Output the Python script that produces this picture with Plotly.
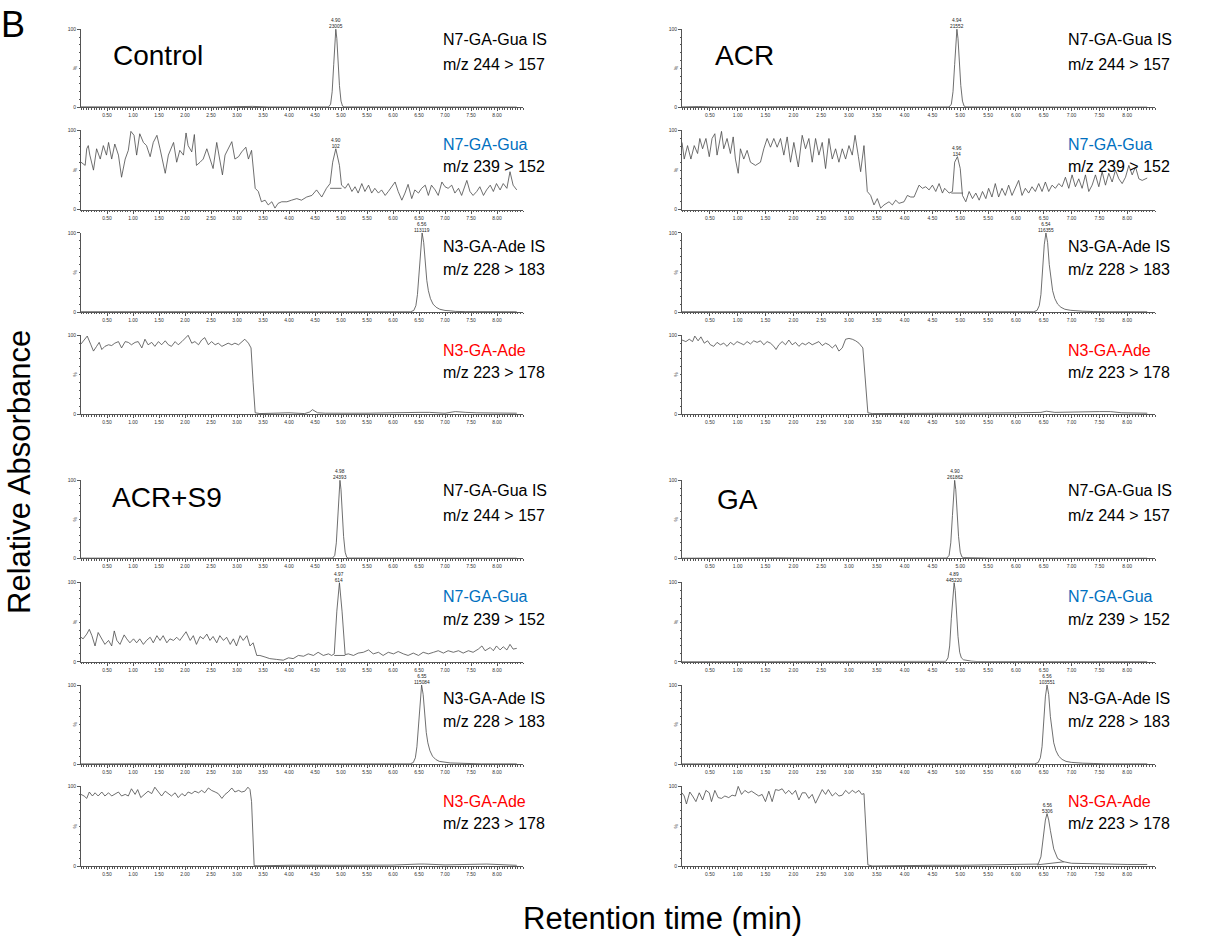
import plotly.graph_objects as go

W, H = 1222, 944
FONT = "Liberation Sans, Arial, Helvetica, sans-serif"

# ---------------- labels ----------------
panel_names = ["Control", "ACR", "ACR+S9", "GA"]
row_names = ["N7-GA-Gua IS", "N7-GA-Gua", "N3-GA-Ade IS", "N3-GA-Ade"]
row_mz = ["m/z 244 > 157", "m/z 239 > 152", "m/z 228 > 183", "m/z 223 > 178"]
row_name_colors = ["#000000", "#0070C0", "#000000", "#FF0000"]
x_tick_vals = [0.5, 1.0, 1.5, 2.0, 2.5, 3.0, 3.5, 4.0, 4.5, 5.0, 5.5, 6.0, 6.5, 7.0, 7.5, 8.0]
x_tick_text = ["0.50", "1.00", "1.50", "2.00", "2.50", "3.00", "3.50", "4.00",
               "4.50", "5.00", "5.50", "6.00", "6.50", "7.00", "7.50", "8.00"]
y_title = "Relative Absorbance"
x_title = "Retention time (min)"

# ---------------- Control ----------------
ctrl_is7_t = [0.00, 0.60, 1.00, 1.40, 2.00, 2.60, 3.00, 3.30, 3.60, 4.20, 4.76, 4.80, 4.83, 4.86, 4.88, 4.90,
              4.92, 4.94, 4.97, 5.00, 5.03, 5.06, 5.60, 6.20, 7.00, 7.80, 8.38]
ctrl_is7_v = [0.6, 0.4, 0.9, 0.5, 0.8, 0.4, 0.9, 1.2, 0.5, 0.4, 0.5, 4, 20, 55, 85, 100,
              88, 62, 28, 8, 1.5, 0.5, 0.4, 0.4, 0.3, 0.3, 0.3]

ctrl_gua_t = [0.00, 0.08, 0.11, 0.14, 0.17, 0.24, 0.30, 0.37, 0.43, 0.49,
              0.53, 0.59, 0.65, 0.72, 0.78, 0.85, 0.91, 0.96, 1.02, 1.07,
              1.13, 1.20, 1.26, 1.33, 1.39, 1.46, 1.52, 1.62, 1.68, 1.78,
              1.84, 1.90, 1.97, 2.02, 2.06, 2.13, 2.18, 2.22, 2.29, 2.35,
              2.42, 2.48, 2.54, 2.61, 2.67, 2.72, 2.77, 2.83, 2.90, 2.96,
              3.03, 3.09, 3.17, 3.22, 3.28, 3.35, 3.41, 3.47, 3.54, 3.60,
              3.67, 3.73, 3.79, 3.86, 3.96, 4.05, 4.15, 4.24, 4.34, 4.44,
              4.53, 4.63, 4.72, 4.79, 4.84, 4.90, 4.97, 5.01, 5.08, 5.14,
              5.21, 5.27, 5.33, 5.40, 5.46, 5.53, 5.59, 5.65, 5.72, 5.78,
              5.85, 5.91, 5.97, 6.04, 6.10, 6.17, 6.23, 6.29, 6.36, 6.42,
              6.49, 6.55, 6.62, 6.68, 6.74, 6.81, 6.87, 6.94, 7.00, 7.06,
              7.13, 7.19, 7.26, 7.32, 7.42, 7.48, 7.54, 7.61, 7.67, 7.74,
              7.80, 7.87, 7.93, 7.99, 8.06, 8.12, 8.19, 8.25, 8.31, 8.38]
ctrl_gua_v = [60, 56, 77, 81, 69, 50, 77, 64, 81, 69,
              85, 64, 83, 69, 41, 64, 75, 99, 94, 69,
              96, 85, 81, 67, 85, 94, 77, 46, 69, 85,
              60, 75, 69, 97, 81, 73, 95, 56, 60, 64,
              77, 64, 52, 85, 64, 44, 69, 77, 86, 64,
              67, 73, 79, 64, 75, 27, 23, 10, 12, 6,
              10, 2, 8, 10, 10, 12, 14, 12, 16, 18,
              25, 16, 27, 33, 60, 77, 56, 31, 27, 33,
              23, 29, 21, 33, 23, 31, 21, 27, 21, 25,
              18, 23, 29, 35, 23, 12, 21, 32, 14, 25,
              21, 27, 31, 18, 31, 25, 18, 35, 29, 27,
              31, 21, 27, 18, 37, 23, 18, 23, 29, 18,
              25, 31, 23, 33, 25, 33, 27, 48, 31, 25]
ctrl_gua_base_t = [4.79, 5.01]
ctrl_gua_base_v = [27, 27]

ctrl_is3_t = [0.00, 0.50, 1.00, 1.50, 2.00, 2.50, 3.00, 3.30, 4.00, 5.00, 6.00, 6.34, 6.40, 6.44, 6.47, 6.50,
              6.53, 6.56, 6.59, 6.62, 6.65, 6.68, 6.72, 6.77, 6.83, 6.90, 7.00, 7.10, 7.20, 7.40, 7.60, 8.38]
ctrl_is3_v = [0.4, 0.3, 0.5, 0.3, 0.6, 0.3, 0.5, 0.6, 0.3, 0.3, 0.3, 0.3, 2, 8, 22, 50,
              85, 100, 88, 60, 40, 27, 17, 10, 6, 3.5, 2, 1.5, 0.8, 0.5, 0.3, 0.3]

ctrl_ade_t = [0.00, 0.06, 0.12, 0.19, 0.24, 0.30, 0.35, 0.40, 0.46, 0.53,
              0.59, 0.65, 0.72, 0.78, 0.85, 0.91, 0.97, 1.04, 1.10, 1.17,
              1.23, 1.29, 1.36, 1.42, 1.49, 1.55, 1.62, 1.68, 1.74, 1.81,
              1.87, 1.94, 2.00, 2.06, 2.13, 2.19, 2.26, 2.32, 2.38, 2.45,
              2.51, 2.58, 2.64, 2.71, 2.77, 2.83, 2.90, 2.96, 3.03, 3.09,
              3.15, 3.22, 3.27, 3.31, 3.35, 3.44,
              3.90, 4.00, 4.30, 4.40, 4.45, 4.55, 4.70, 5.50, 6.50, 6.70, 7.00, 7.20, 7.40, 7.60, 8.38]
ctrl_ade_v = [89, 94, 99, 88, 80, 86, 91, 82, 86, 88,
              87, 90, 92, 84, 92, 91, 88, 91, 92, 84,
              95, 88, 91, 86, 92, 88, 93, 88, 86, 92,
              88, 92, 96, 100, 90, 92, 88, 94, 97, 88,
              92, 88, 90, 86, 88, 90, 88, 90, 88, 91,
              95, 90, 84, 40, 2, 1,
              1.5, 2, 1, 3, 6, 2, 1.5, 1.5, 2.5, 2.5, 1.5, 3.5, 2.5, 2, 1.5]

# ---------------- ACR ----------------
acr_is7_t = [0.00, 0.30, 0.60, 1.30, 2.00, 2.60, 3.10, 3.60, 4.30, 4.80, 4.84, 4.87, 4.90, 4.92, 4.94,
             4.96, 4.98, 5.01, 5.04, 5.07, 5.10, 5.60, 6.40, 7.20, 8.36]
acr_is7_v = [0.5, 1.0, 0.4, 0.9, 0.8, 0.4, 0.7, 0.3, 0.3, 0.5, 4, 20, 55, 85, 100,
             88, 62, 28, 8, 1.5, 0.5, 0.3, 0.3, 0.3, 0.3]

acr_gua_t = [0.00, 0.04, 0.10, 0.16, 0.22, 0.28, 0.32, 0.37, 0.43, 0.49,
             0.54, 0.59, 0.63, 0.71, 0.75, 0.81, 0.87, 0.92, 0.96, 1.01,
             1.05, 1.11, 1.17, 1.23, 1.32, 1.41, 1.47, 1.53, 1.59, 1.65,
             1.71, 1.77, 1.83, 1.89, 1.95, 2.01, 2.09, 2.16, 2.22, 2.28,
             2.34, 2.40, 2.46, 2.52, 2.58, 2.64, 2.70, 2.76, 2.82, 2.88,
             2.94, 3.00, 3.06, 3.11, 3.17, 3.21, 3.27, 3.33, 3.39, 3.45,
             3.51, 3.57, 3.63, 3.72, 3.78, 3.84, 3.90, 3.99, 4.05, 4.11,
             4.17, 4.26, 4.32, 4.38, 4.44, 4.50, 4.56, 4.62, 4.68, 4.72,
             4.80, 4.86, 4.90, 4.95, 5.00, 5.04, 5.10, 5.16, 5.22, 5.28,
             5.34, 5.40, 5.46, 5.51, 5.57, 5.63, 5.69, 5.75, 5.81, 5.87,
             5.93, 5.99, 6.05, 6.11, 6.17, 6.23, 6.29, 6.35, 6.41, 6.47,
             6.53, 6.59, 6.65, 6.71, 6.77, 6.83, 6.89, 6.95, 7.01, 7.07,
             7.13, 7.19, 7.25, 7.31, 7.37, 7.43, 7.49, 7.55, 7.61, 7.67,
             7.73, 7.79, 7.85, 7.91, 7.97, 8.03, 8.09, 8.15, 8.21, 8.27, 8.36]
acr_gua_v = [85, 64, 81, 64, 81, 71, 90, 77, 90, 67,
             90, 96, 69, 99, 77, 90, 71, 92, 64, 46,
             77, 64, 75, 60, 56, 60, 77, 90, 79, 90,
             79, 90, 69, 92, 60, 85, 54, 94, 77, 90,
             60, 90, 69, 85, 52, 90, 64, 77, 60, 77,
             64, 81, 69, 94, 67, 48, 81, 23, 18, 6,
             14, 2, 6, 10, 6, 12, 8, 10, 18, 16,
             16, 31, 27, 29, 25, 31, 23, 33, 21, 27,
             21, 23, 60, 67, 52, 18, 10, 23, 14, 21,
             12, 23, 14, 27, 16, 33, 16, 27, 18, 31,
             18, 27, 37, 18, 27, 21, 29, 23, 33, 23,
             35, 23, 31, 27, 33, 29, 41, 27, 44, 29,
             39, 27, 44, 23, 31, 44, 29, 48, 31, 46,
             35, 50, 39, 33, 41, 56, 44, 54, 39, 37, 40]
acr_gua_base_t = [4.84, 5.05]
acr_gua_base_v = [21, 21]

acr_is3_t = [0.00, 0.60, 1.20, 1.90, 2.50, 3.10, 3.80, 4.50, 5.20, 6.00, 6.32, 6.38, 6.42, 6.45, 6.48, 6.51,
             6.54, 6.57, 6.60, 6.63, 6.66, 6.70, 6.75, 6.81, 6.88, 6.98, 7.08, 7.20, 7.40, 7.60, 8.36]
acr_is3_v = [0.4, 0.6, 0.5, 0.7, 0.3, 0.3, 0.3, 0.3, 0.3, 0.3, 0.3, 2, 8, 22, 50, 85,
             100, 88, 60, 40, 27, 17, 10, 6, 3.5, 2.2, 1.5, 1, 0.6, 0.3, 0.3]

acr_ade_t = [0.00, 0.07, 0.13, 0.19, 0.23, 0.29, 0.34, 0.40, 0.46, 0.51,
             0.57, 0.63, 0.69, 0.75, 0.81, 0.87, 0.93, 0.99, 1.05, 1.11,
             1.17, 1.23, 1.29, 1.35, 1.41, 1.47, 1.53, 1.59, 1.65, 1.69,
             1.74, 1.80, 1.86, 1.92, 1.98, 2.04, 2.10, 2.16, 2.22, 2.28,
             2.34, 2.40, 2.46, 2.52, 2.58, 2.64, 2.70, 2.76, 2.82, 2.88,
             2.94, 3.00, 3.06, 3.12, 3.18, 3.25, 3.30, 3.34, 3.42,
             4.00, 5.00, 6.00, 6.45, 6.55, 6.70, 7.50, 7.70, 7.90, 8.36]
acr_ade_v = [94, 92, 95, 92, 99, 93, 98, 90, 93, 88,
             86, 91, 88, 90, 86, 91, 88, 92, 90, 88,
             92, 89, 93, 91, 93, 88, 92, 90, 86, 82,
             88, 92, 88, 94, 88, 91, 86, 90, 88, 91,
             88, 90, 92, 87, 90, 88, 84, 88, 80, 84,
             95, 96, 95, 93, 90, 84, 44, 2, 1,
             1.5, 1.5, 2, 2.5, 4, 2.5, 3.5, 3.5, 2, 1.5]

# ---------------- ACR+S9 ----------------
s9_is7_t = [0.00, 0.50, 1.00, 1.50, 2.00, 2.50, 3.00, 3.50, 4.20, 4.84, 4.88, 4.91, 4.94, 4.96, 4.98,
            5.00, 5.02, 5.05, 5.08, 5.11, 5.14, 5.70, 6.50, 7.30, 8.38]
s9_is7_v = [0.4, 0.3, 0.4, 0.3, 0.4, 0.3, 0.4, 0.3, 0.3, 0.5, 4, 20, 55, 85, 100,
            88, 62, 28, 8, 1.5, 0.5, 0.3, 0.3, 0.3, 0.3]

s9_gua_t = [0.00, 0.04, 0.11, 0.16, 0.21, 0.27, 0.33, 0.40, 0.46, 0.53,
            0.59, 0.64, 0.69, 0.75, 0.83, 0.88, 0.94, 1.01, 1.07, 1.13,
            1.20, 1.26, 1.33, 1.39, 1.46, 1.52, 1.58, 1.65, 1.71, 1.78,
            1.84, 1.90, 1.97, 2.02, 2.10, 2.16, 2.22, 2.29, 2.35, 2.42,
            2.48, 2.54, 2.61, 2.67, 2.74, 2.80, 2.87, 2.93, 2.99, 3.06,
            3.12, 3.19, 3.25, 3.31, 3.38, 3.44, 3.54, 3.63, 3.76, 3.89,
            3.99, 4.08, 4.18, 4.28, 4.37, 4.47, 4.56, 4.66, 4.76, 4.82,
            4.87, 4.92, 4.97, 5.02, 5.08, 5.14, 5.24, 5.33, 5.43, 5.53,
            5.62, 5.72, 5.81, 5.91, 6.01, 6.10, 6.20, 6.29, 6.39, 6.49,
            6.58, 6.68, 6.78, 6.87, 6.97, 7.06, 7.16, 7.26, 7.35, 7.45,
            7.54, 7.64, 7.71, 7.77, 7.87, 7.93, 7.99, 8.06, 8.12, 8.19,
            8.25, 8.31, 8.38]
s9_gua_v = [31, 29, 35, 41, 33, 20, 37, 29, 22, 27,
            20, 39, 27, 22, 34, 29, 24, 29, 24, 29,
            22, 27, 31, 24, 33, 27, 33, 24, 29, 27,
            31, 27, 33, 38, 27, 33, 22, 32, 29, 35,
            27, 32, 24, 33, 27, 31, 22, 29, 20, 33,
            27, 33, 20, 24, 8, 8, 6, 4, 3, 2,
            5, 4, 8, 7, 10, 8, 12, 8, 10, 8,
            10, 64, 100, 64, 9, 10, 8, 11, 12, 15,
            10, 12, 8, 12, 10, 13, 10, 8, 11, 8,
            12, 10, 12, 14, 11, 14, 12, 14, 11, 14,
            12, 16, 20, 14, 18, 14, 20, 15, 19, 15,
            22, 16, 17]
s9_gua_base_t = [4.87, 5.08]
s9_gua_base_v = [8, 8]

s9_is3_t = [0.00, 0.40, 1.00, 1.30, 2.00, 2.70, 3.20, 4.00, 5.00, 6.00, 6.33, 6.39, 6.43, 6.46, 6.49, 6.52,
            6.55, 6.58, 6.61, 6.64, 6.67, 6.71, 6.76, 6.82, 6.89, 6.99, 7.10, 7.25, 7.50, 7.70, 8.38]
s9_is3_v = [0.3, 0.5, 0.4, 0.7, 0.5, 0.3, 0.3, 0.3, 0.3, 0.3, 0.3, 2, 8, 22, 50, 85,
            100, 88, 60, 40, 27, 17, 10, 6, 3.5, 2.2, 1.5, 1.2, 0.8, 0.3, 0.3]

s9_ade_t = [0.00, 0.06, 0.11, 0.16, 0.22, 0.27, 0.33, 0.40, 0.46, 0.53,
            0.59, 0.65, 0.72, 0.78, 0.85, 0.91, 0.97, 1.04, 1.09, 1.15,
            1.23, 1.29, 1.36, 1.42, 1.49, 1.55, 1.62, 1.68, 1.74, 1.81,
            1.87, 1.94, 2.00, 2.06, 2.13, 2.19, 2.26, 2.32, 2.38, 2.45,
            2.51, 2.58, 2.64, 2.71, 2.77, 2.83, 2.90, 2.96, 3.03, 3.09,
            3.15, 3.21, 3.25, 3.28, 3.33, 3.40,
            4.00, 5.00, 6.00, 6.50, 6.60, 7.00, 7.50, 7.80, 8.38]
s9_ade_v = [90, 88, 85, 93, 88, 92, 88, 93, 88, 92,
            88, 90, 93, 88, 90, 88, 97, 90, 96, 86,
            90, 94, 91, 99, 93, 88, 94, 91, 88, 92,
            86, 91, 88, 93, 91, 94, 92, 95, 92, 98,
            95, 93, 91, 85, 90, 93, 98, 93, 95, 93,
            94, 99, 96, 81, 1, 0.8,
            1.5, 1.5, 1.8, 3, 3, 2, 2.5, 3, 1.5]

# ---------------- GA ----------------
ga_is7_t = [0.00, 0.30, 0.70, 1.70, 2.50, 3.30, 4.00, 4.76, 4.80, 4.83, 4.86, 4.88, 4.90, 4.92, 4.94,
            4.97, 5.00, 5.03, 5.06, 5.20, 5.60, 6.50, 7.50, 8.36]
ga_is7_v = [0.3, 0.5, 0.3, 0.7, 0.3, 0.3, 0.3, 0.5, 4, 20, 55, 85, 100, 88, 62,
            28, 8, 2, 1, 0.8, 0.3, 0.3, 0.3, 0.3]

ga_gua_t = [0.00, 1.00, 2.00, 3.00, 4.00, 4.74, 4.78, 4.81, 4.84, 4.87, 4.89, 4.91, 4.93, 4.96,
            4.99, 5.02, 5.06, 5.12, 5.20, 5.30, 6.50, 8.36]
ga_gua_v = [0.3, 0.3, 0.3, 0.3, 0.3, 0.5, 5, 20, 55, 90, 100, 90, 65, 32,
            12, 5, 2.5, 1.5, 0.8, 0.3, 0.3, 0.3]

ga_is3_t = [0.00, 0.50, 1.00, 1.50, 2.00, 2.50, 3.00, 3.30, 4.00, 5.00, 6.00, 6.34, 6.40, 6.44, 6.47, 6.50,
            6.53, 6.56, 6.59, 6.62, 6.65, 6.68, 6.72, 6.77, 6.83, 6.90, 7.00, 7.10, 7.20, 7.40, 7.60, 8.36]
ga_is3_v = [0.3, 0.3, 0.3, 0.3, 0.3, 0.3, 0.3, 0.3, 0.3, 0.3, 0.3, 0.3, 2, 8, 22, 50,
            85, 100, 88, 60, 40, 27, 17, 10, 6, 3.5, 2.2, 1.6, 1.2, 0.8, 0.3, 0.3]

ga_ade_t = [0.00, 0.04, 0.08, 0.14, 0.19, 0.25, 0.31, 0.37, 0.43, 0.49,
            0.53, 0.59, 0.65, 0.71, 0.77, 0.84, 0.90, 0.96, 1.01, 1.07,
            1.13, 1.19, 1.25, 1.32, 1.38, 1.44, 1.50, 1.56, 1.62, 1.68,
            1.74, 1.80, 1.86, 1.92, 1.98, 2.04, 2.10, 2.16, 2.22, 2.28,
            2.34, 2.40, 2.46, 2.52, 2.58, 2.63, 2.70, 2.76, 2.82, 2.88,
            2.94, 3.00, 3.06, 3.12, 3.18, 3.23, 3.27, 3.30, 3.34, 3.42,
            3.70, 4.00, 4.50, 5.00, 5.50, 6.00, 6.30, 6.40, 6.45, 6.50, 6.53, 6.56, 6.59, 6.62,
            6.68, 6.75, 6.85, 7.00, 7.50, 8.00, 8.36]
ga_ade_v = [92, 88, 78, 93, 88, 81, 92, 83, 95, 92,
            81, 95, 86, 85, 88, 86, 89, 88, 100, 90,
            95, 92, 94, 91, 88, 90, 81, 94, 81, 96,
            95, 97, 91, 95, 90, 95, 83, 92, 92, 85,
            90, 79, 88, 96, 90, 96, 88, 92, 88, 89,
            95, 91, 95, 92, 95, 90, 91, 52, 2, 0.5,
            1, 1.5, 1.5, 1.5, 2, 2, 2.5, 3, 12, 40, 58, 66, 58, 45,
            22, 10, 6, 4, 3, 2.5, 2.5]
ga_ade_base_t = [6.38, 6.86]
ga_ade_base_v = [2, 5.8]

# peak labels
peak_label_rows = [[0, 1, 2], [0, 1, 2], [0, 1, 2], [0, 1, 2, 3]]
peak_label_time = [["4.90", "4.90", "6.56"], ["4.94", "4.96", "6.54"],
                   ["4.98", "4.97", "6.55"], ["4.90", "4.89", "6.56", "6.56"]]
peak_label_area = [["23005", "102", "113119"], ["21552", "134", "116355"],
                   ["24393", "614", "115084"], ["261862", "445220", "103551", "5306"]]
peak_label_x = [[4.90, 4.90, 6.56], [4.94, 4.95, 6.54], [4.98, 4.97, 6.55], [4.90, 4.89, 6.56, 6.56]]
peak_label_y = [[100, 77, 100], [100, 67, 100], [100, 100, 100], [100, 100, 100, 66]]

panel_traces = [
    [(ctrl_is7_t, ctrl_is7_v), (ctrl_gua_t, ctrl_gua_v), (ctrl_is3_t, ctrl_is3_v), (ctrl_ade_t, ctrl_ade_v)],
    [(acr_is7_t, acr_is7_v), (acr_gua_t, acr_gua_v), (acr_is3_t, acr_is3_v), (acr_ade_t, acr_ade_v)],
    [(s9_is7_t, s9_is7_v), (s9_gua_t, s9_gua_v), (s9_is3_t, s9_is3_v), (s9_ade_t, s9_ade_v)],
    [(ga_is7_t, ga_is7_v), (ga_gua_t, ga_gua_v), (ga_is3_t, ga_is3_v), (ga_ade_t, ga_ade_v)],
]
baselines = [
    (0, 1, ctrl_gua_base_t, ctrl_gua_base_v),
    (1, 1, acr_gua_base_t, acr_gua_base_v),
    (2, 1, s9_gua_base_t, s9_gua_base_v),
    (3, 3, ga_ade_base_t, ga_ade_base_v),
]

# ---------------- geometry (pixels) ----------------
cols_px = [(81, 523), (682, 1155)]
rows_top_px = [(26, 105), (128, 208), (231, 311), (334, 414)]
rows_bot_px = [(480, 559), (583, 663), (686, 766), (788, 869)]
panel_pos = [(0, 0), (1, 0), (0, 1), (1, 1)]  # (col, block)
label_x_px = [441, 1066]
label_offsets = [(11, 36), (14, 37), (14, 37), (16, 38)]
title_px = [(111, 53), (713, 53), (110, 498), (715, 500)]


def fx(px):
    return px / W


def fy(py):
    return 1 - py / H


LINE = "#4a4a4a"
AX = "#555555"

fig = go.Figure()
layout = dict(
    width=W, height=H, margin=dict(l=0, r=0, t=0, b=0),
    paper_bgcolor="white", plot_bgcolor="white", showlegend=False,
    font=dict(family=FONT, color="#000000"),
)
annotations = []

for p in range(4):
    col, block = panel_pos[p]
    rows_px = rows_top_px if block == 0 else rows_bot_px
    for r in range(4):
        k = p * 4 + r + 1
        xa = "x" if k == 1 else f"x{k}"
        ya = "y" if k == 1 else f"y{k}"
        xkey = "xaxis" if k == 1 else f"xaxis{k}"
        ykey = "yaxis" if k == 1 else f"yaxis{k}"
        top, bot = rows_px[r]
        x0, x1 = cols_px[col]
        layout[xkey] = dict(
            domain=[fx(x0), fx(x1)], range=[0, 8.5], anchor=ya,
            showline=True, linecolor=AX, linewidth=0.8, showgrid=False, zeroline=False,
            ticks="outside", ticklen=3, tickwidth=0.6, tickcolor=AX,
            tickmode="array", tickvals=x_tick_vals, ticktext=x_tick_text,
            tickfont=dict(size=5, color="#333333", family=FONT),
            minor=dict(ticks="outside", ticklen=1.5, tickwidth=0.5, tickcolor=AX,
                       tickmode="linear", tick0=0, dtick=0.05, showgrid=False),
        )
        layout[ykey] = dict(
            domain=[fy(bot), fy(top)], range=[0, 100.5], anchor=xa,
            showline=True, linecolor=AX, linewidth=0.8, showgrid=False, zeroline=False,
            ticks="outside", ticklen=3, tickwidth=0.6, tickcolor=AX,
            tickmode="array", tickvals=[0, 100], ticktext=["0", "100"],
            tickfont=dict(size=5, color="#333333", family=FONT),
            minor=dict(ticks="outside", ticklen=1.5, tickwidth=0.5, tickcolor=AX,
                       tickmode="linear", tick0=0, dtick=10, showgrid=False),
        )
        t, v = panel_traces[p][r]
        fig.add_trace(go.Scatter(x=t, y=v, mode="lines", xaxis=xa, yaxis=ya,
                                 line=dict(color=LINE, width=0.8), hoverinfo="skip"))
        annotations.append(dict(text="%", xref="paper", yref=ya, x=fx(x0 - 6), y=50,
                                showarrow=False, textangle=-90, xanchor="center", yanchor="middle",
                                font=dict(size=5, color="#333333", family=FONT)))
        o1, o2 = label_offsets[r]
        annotations.append(dict(text=row_names[r], xref="paper", yref="paper",
                                x=fx(label_x_px[col]), y=fy(top + o1), xanchor="left", yanchor="middle",
                                showarrow=False, font=dict(size=16, color=row_name_colors[r], family=FONT)))
        annotations.append(dict(text=row_mz[r], xref="paper", yref="paper",
                                x=fx(label_x_px[col]), y=fy(top + o2), xanchor="left", yanchor="middle",
                                showarrow=False, font=dict(size=16, color="#000000", family=FONT)))

    tx, ty = title_px[p]
    annotations.append(dict(text=panel_names[p], xref="paper", yref="paper", x=fx(tx), y=fy(ty),
                            xanchor="left", yanchor="middle", showarrow=False,
                            font=dict(size=28, color="#000000", family=FONT)))
    for i, r in enumerate(peak_label_rows[p]):
        k = p * 4 + r + 1
        xa = "x" if k == 1 else f"x{k}"
        ya = "y" if k == 1 else f"y{k}"
        annotations.append(dict(text=f"{peak_label_time[p][i]}<br>{peak_label_area[p][i]}",
                                xref=xa, yref=ya, x=peak_label_x[p][i], y=peak_label_y[p][i],
                                xanchor="center", yanchor="bottom", yshift=-1, borderpad=0,
                                showarrow=False,
                                font=dict(size=4.8, color="#222222", family=FONT)))

for p, r, bt, bv in baselines:
    k = p * 4 + r + 1
    fig.add_trace(go.Scatter(x=bt, y=bv, mode="lines", xaxis=f"x{k}", yaxis=f"y{k}",
                             line=dict(color=LINE, width=0.8), hoverinfo="skip"))

annotations.append(dict(text="B", xref="paper", yref="paper", x=fx(0), y=fy(0),
                        xanchor="left", yanchor="top", borderpad=0, showarrow=False,
                        font=dict(size=36, color="#000000", family=FONT)))
annotations.append(dict(text=y_title, xref="paper", yref="paper", x=fx(19), y=fy(472),
                        xanchor="center", yanchor="middle", textangle=-90, showarrow=False,
                        font=dict(size=31, color="#000000", family=FONT)))
annotations.append(dict(text=x_title, xref="paper", yref="paper", x=fx(662), y=fy(921),
                        xanchor="center", yanchor="middle", showarrow=False,
                        font=dict(size=31, color="#000000", family=FONT)))

layout["annotations"] = annotations
fig.update_layout(**layout)
fig.write_html("out.html", config={"displayModeBar": False},
               post_script="document.body.style.margin='0';document.body.style.overflow='hidden';")
